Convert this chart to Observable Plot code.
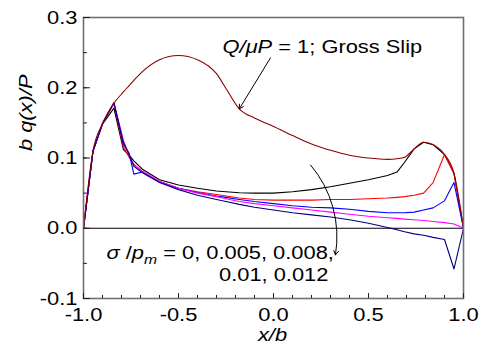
<!DOCTYPE html>
<html><head><meta charset="utf-8">
<script src="https://cdn.jsdelivr.net/npm/d3@7"></script>
<script src="https://cdn.jsdelivr.net/npm/@observablehq/plot@0.6"></script>
<style>body{margin:0;background:#fff} svg{display:block}</style>
</head><body><div id="chart"></div>
<script>
// x/b positions
const xb = [-1, -0.95, -0.9, -0.84, -0.79, -0.76, -0.735, -0.69, -0.6, -0.5, -0.4, -0.3, -0.25, -0.18, -0.1, 0, 0.1, 0.2, 0.3, 0.4, 0.5, 0.6, 0.65, 0.69, 0.74, 0.79, 0.84, 0.9, 0.95, 1];
// Q/muP = 1, gross slip
const grossSlip = [0, 0.110, 0.149, 0.178, 0.194, 0.203, 0.2105, 0.223, 0.240, 0.246, 0.240, 0.220, 0.199, 0.170, 0.157, 0.145, 0.132, 0.120, 0.111, 0.104, 0.100, 0.098, 0.099, 0.101, 0.113, 0.1225, 0.119, 0.105, 0.078, 0];
// sigma/pm = 0
const sigma0 = [0, 0.110, 0.148, 0.171, 0.112, 0.104, 0.096, 0.084, 0.069, 0.0615, 0.057, 0.053, 0.052, 0.0505, 0.050, 0.050, 0.052, 0.055, 0.059, 0.064, 0.069, 0.075, 0.080, 0.094, 0.113, 0.1225, 0.119, 0.105, 0.078, 0];
// sigma/pm = 0.005
const sigma005 = [0, 0.110, 0.149, 0.178, 0.116, 0.101, 0.091, 0.081, 0.066, 0.057, 0.052, 0.048, 0.046, 0.043, 0.041, 0.040, 0.040, 0.040, 0.041, 0.041, 0.042, 0.043, 0.044, 0.045, 0.047, 0.050, 0.065, 0.105, 0.078, 0];
// sigma/pm = 0.008
const sigma008 = [0, 0.110, 0.149, 0.179, 0.120, 0.107, 0.077, 0.080, 0.066, 0.057, 0.051, 0.046, 0.044, 0.041, 0.038, 0.035, 0.032, 0.030, 0.029, 0.027, 0.024, 0.022, 0.022, 0.022, 0.023, 0.026, 0.029, 0.039, 0.065, 0];
// sigma/pm = 0.01
const sigma01 = [0, 0.110, 0.149, 0.179, 0.125, 0.104, 0.090, 0.081, 0.067, 0.057, 0.050, 0.045, 0.042, 0.038, 0.035, 0.032, 0.029, 0.026, 0.023, 0.020, 0.017, 0.015, 0.014, 0.013, 0.012, 0.011, 0.0095, 0.008, 0.006, 0];
// sigma/pm = 0.012
const sigma012 = [0, 0.110, 0.149, 0.178, 0.122, 0.105, 0.088, 0.079, 0.065, 0.055, 0.047, 0.041, 0.038, 0.034, 0.030, 0.026, 0.022, 0.019, 0.016, 0.012, 0.007, 0.001, -0.002, -0.005, -0.008, -0.010, -0.013, -0.016, -0.058, 0];

const seriesList = [
  {name: "0", values: sigma0, color: "#000000", curve: "linear"},
  {name: "0.005", values: sigma005, color: "#ff0000", curve: "linear"},
  {name: "0.008", values: sigma008, color: "#0000ff", curve: "linear"},
  {name: "0.01", values: sigma01, color: "#ff00ff", curve: "linear"},
  {name: "0.012", values: sigma012, color: "#000080", curve: "linear"},
  {name: "gross", values: grossSlip, color: "#8b0000", curve: "monotone-x"}
];
const xTicks = [-1, -0.5, 0, 0.5, 1];
const yTicks = [-0.1, 0, 0.1, 0.2, 0.3];
const xMinor = d3.range(-10, 11).map(i => i / 10);
const yMinor = d3.range(-2, 7).map(i => i / 20);

const grossLabel = "Q/μP = 1; Gross Slip";
const sigmaLine1 = "σ /pm = 0, 0.005, 0.008,";
const sigmaLine2 = "0.01, 0.012";

const FONT = "Liberation Sans, Arial, sans-serif";

const lines = seriesList.map(s =>
  Plot.line(s.values.map((v, i) => ({x: xb[i], y: v})), {x: "x", y: "y", stroke: s.color, strokeWidth: 1.1, curve: s.curve})
);

const gi = xb.indexOf(-0.18);

const plot = Plot.plot({
  width: 479, height: 352,
  marginLeft: 83, marginRight: 16, marginTop: 17, marginBottom: 54,
  style: {fontFamily: FONT, fontSize: "19px", background: "white", color: "black"},
  x: {domain: [-1, 1]},
  y: {domain: [-0.1, 0.3]},
  marks: [
    Plot.ruleY([0], {stroke: "black", strokeWidth: 1}),
    ...lines,
    Plot.frame({stroke: "#707070", strokeWidth: 1.6}),
    Plot.axisX(xTicks, {tickSize: -5, tickFormat: () => "", label: null, stroke: "#222"}),
    Plot.axisX(xMinor, {tickSize: -3, tickFormat: () => "", label: null, stroke: "#222"}),
    Plot.axisX(xTicks, {tickSize: 0, tickPadding: 9, tickFormat: d => d.toFixed(1), label: null, fontSize: 19}),
    Plot.axisY(yTicks, {tickSize: -7, tickFormat: () => "", label: null, stroke: "#222"}),
    Plot.axisY(yMinor, {tickSize: -4, tickFormat: () => "", label: null, stroke: "#222"}),
    Plot.axisY(yTicks, {tickSize: 0, tickPadding: 6, tickFormat: d => d.toFixed(1), label: null, fontSize: 19}),
    Plot.text(["b q(x)/P"], {text: d => d, frameAnchor: "left", rotate: -90, dx: -58, dy: -7, fontStyle: "italic", fontSize: 19}),
    Plot.text(["x/b"], {text: d => d, frameAnchor: "bottom", dy: 42, dx: -1, fontStyle: "italic", fontSize: 19}),
    Plot.text([grossLabel], {text: d => d, x: -0.268, y: 0.258, textAnchor: "start", fontSize: 19}),
    Plot.text([sigmaLine1], {text: d => d, x: -0.879, y: -0.035, textAnchor: "start", fontSize: 19}),
    Plot.text([sigmaLine2], {text: d => d, x: 0.289, y: -0.0665, textAnchor: "end", fontSize: 19}),
    Plot.arrow([0], {x1: -0.016, y1: 0.2425, x2: xb[gi], y2: grossSlip[gi], stroke: "black", strokeWidth: 1, headLength: 7}),
    Plot.arrow([0], {x1: 0.195, y1: 0.090, x2: 0.326, y2: -0.038, bend: 25, stroke: "black", strokeWidth: 1, headLength: 7})
  ]
});
document.getElementById("chart").appendChild(plot);

// rich text for annotations
function rich(el, parts) {
  el.textContent = "";
  parts.forEach(p => {
    const t = document.createElementNS("http://www.w3.org/2000/svg", "tspan");
    t.textContent = p.t;
    if (p.i) t.setAttribute("font-style", "italic");
    if (p.sub) { t.setAttribute("font-size", "0.72em"); t.setAttribute("dy", "0.35em"); }
    if (p.back) t.setAttribute("dy", "-0.25em");
    el.appendChild(t);
  });
}
d3.select(plot).selectAll("text").each(function() {
  const s = this.textContent;
  if (s === grossLabel) rich(this, [{t: "Q/μP", i: 1}, {t: " = 1; Gross Slip"}]);
  else if (s === sigmaLine1) rich(this, [{t: "σ", i: 1}, {t: " /"}, {t: "p", i: 1}, {t: "m", i: 1, sub: 1}, {t: " = 0, 0.005, 0.008,", back: 1}]);
});
// widen glyphs to match reference proportions
d3.select(plot).selectAll("text").each(function() {
  if (!this.textContent) return;
  const w = this.getComputedTextLength();
  if (w > 0) { this.setAttribute("textLength", (w * 1.15).toFixed(1)); this.setAttribute("lengthAdjust", "spacingAndGlyphs"); }
});
</script>
</body></html>
